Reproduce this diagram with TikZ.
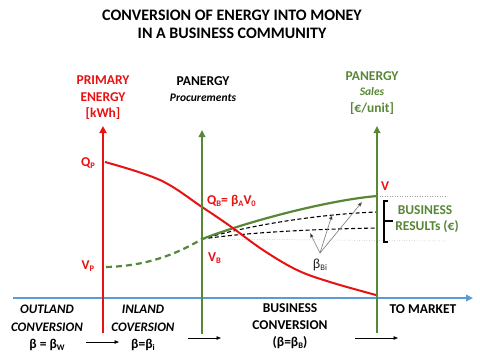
\documentclass[tikz,border=0pt]{standalone}
\usepackage{fontspec}
\setmainfont{Carlito}
\usetikzlibrary{arrows.meta}
\definecolor{myred}{RGB}{232,18,18}
\definecolor{mygreen}{RGB}{88,135,55}
\definecolor{myblue}{RGB}{91,155,213}
\definecolor{mygray}{RGB}{120,120,120}
\newcommand\sbx[1]{\raisebox{-0.35ex}{\fontsize{8.5}{9}\selectfont #1}}
\begin{document}
\begin{tikzpicture}[x=1pt,y=-1pt,
  every node/.style={inner sep=0pt, anchor=base},
  ttl/.style={font=\bfseries\fontsize{16}{18}\selectfont},
  lbl/.style={font=\bfseries\fontsize{13.5}{15}\selectfont},
  ilbl/.style={font=\bfseries\itshape\fontsize{13}{15}\selectfont},
  sml/.style={font=\bfseries\itshape\fontsize{11.5}{13}\selectfont},
  redaxis/.style={myred, line width=2.5pt, -{Triangle[width=7pt,length=7pt]}},
  greenaxis/.style={mygreen, line width=2pt, -{Triangle[width=6.5pt,length=7pt]}},
  thinarr/.style={black, line width=0.7pt, -{Triangle[width=3.5pt,length=4.5pt]}},
  grayarr/.style={mygray, line width=0.6pt, -{Triangle[width=3.5pt,length=4.5pt,fill=black]}},
  dotline/.style={mygray!70, line width=0.5pt, dotted},
  blackdash/.style={black, line width=1.1pt, dash pattern=on 4pt off 2.5pt}
]
\useasboundingbox (0,0) rectangle (480,360);
\fill[white] (0,0) rectangle (480,360);

% title
\node[ttl] (t1) at (232,20) {CONVERSION OF ENERGY INTO MONEY};
\node[ttl] (t2) at (232,38) {IN A BUSINESS COMMUNITY};

% axis headers
\node[lbl, myred] (h1a) at (103,84) {PRIMARY};
\node[lbl, myred] (h1b) at (103,101) {ENERGY};
\node[lbl, myred] (h1c) at (103,117) {[kWh]};
\node[lbl] (h2a) at (203,85) {PANERGY};
\node[sml] (h2b) at (203,101) {Procurements};
\node[lbl, mygreen] (h3a) at (372,80) {PANERGY};
\node[sml, mygreen] (h3b) at (372,95) {Sales};
\node[lbl, mygreen] (h3c) at (372,112) {[€/unit]};

% coordinates
\coordinate (rb) at (103,333);
\coordinate (rt) at (103,126);
\coordinate (mb) at (202,334);
\coordinate (mt) at (202,130);
\coordinate (gb) at (377,333);
\coordinate (gt) at (377,126);
\coordinate (bl) at (13,298);
\coordinate (br) at (473,298);
\coordinate (vb) at (202,239);
\coordinate (vp) at (106,267);
\coordinate (vv) at (377,196);
\coordinate (e1) at (377,212);
\coordinate (e2) at (377,228);

% dotted guides
\draw[dotline] (vv) -- (447,196);
\draw[dotline] (vb) -- (447,241);

% blue axis
\draw[myblue, line width=2pt, -{Triangle[width=6.5pt,length=7pt]}] (bl) -- (br);

% curves
\draw[blackdash] (vb) .. controls (250,225) and (320,214) .. (e1);
\draw[blackdash] (vb) .. controls (250,232) and (320,229) .. (e2);
\draw[mygreen, line width=2.2pt] (vb) .. controls (252,220) and (330,200) .. (vv);
\draw[mygreen, line width=2.2pt, dash pattern=on 6pt off 4pt] (vp) .. controls (150,266) and (180,252) .. (vb);
\draw[myred, line width=2pt] plot[smooth, tension=0.6] coordinates {(105,162) (160,180) (202,207) (230,226) (263,250) (297,270) (330,282) (376,295)};

% axes
\draw[redaxis] (rb) -- (rt);
\draw[greenaxis] (mb) -- (mt);
\draw[greenaxis] (gb) -- (gt);

% bracket
\draw[black, line width=1.4pt] (388,201) -- (384,201) -- (384,242) -- (388,242);
\draw[black, line width=1.4pt] (384,221) -- (393,221);

% beta_Bi arrows
\coordinate (bo) at (320,253);
\coordinate (a1) at (310,233);
\coordinate (a2) at (332,215);
\coordinate (a3) at (362,202);
\draw[grayarr] (bo) -- (a1);
\draw[grayarr] (bo) -- (a2);
\draw[grayarr] (bo) -- (a3);

% curve labels
\node[lbl, myred] (qp) at (88,166) {Q\sbx{P}};
\node[lbl, myred] (vpl) at (88,269) {V\sbx{P}};
\node[lbl, myred, anchor=base west] (qb) at (207,204) {Q\sbx{B}= β\sbx{A}V\sbx{0}};
\node[lbl, myred, anchor=base west] (vbl) at (208,261) {V\sbx{B}};
\node[lbl, myred] (vl) at (385,190) {V};
\node[font=\fontsize{14}{15}\selectfont, black!85] (bbi) at (320,268) {β\sbx{Bi}};
\node[lbl, mygreen] (br1) at (425,214) {BUSINESS};
\node[lbl, mygreen] (br2) at (427,230) {RESULTs (€)};

% bottom labels
\node[ilbl] (o1) at (47,313) {OUTLAND};
\node[ilbl] (o2) at (47,331) {CONVERSION};
\node[lbl] (o3) at (47,348) {β = β\sbx{W}};
\node[ilbl] (i1) at (143,313) {INLAND};
\node[ilbl] (i2) at (143,331) {COVERSION};
\node[lbl] (i3) at (143,348) {β=β\sbx{i}};
\node[lbl] (b1) at (290,312) {BUSINESS};
\node[lbl] (b2) at (290,329) {CONVERSION};
\node[lbl] (b3) at (290,346) {(β=β\sbx{B})};
\node[lbl] (tm) at (423,313) {TO MARKET};

% small arrows
\coordinate (s1a) at (86,342); \coordinate (s1b) at (119,342);
\coordinate (s2a) at (188,338); \coordinate (s2b) at (221,338);
\coordinate (s3a) at (355,338); \coordinate (s3b) at (398,338);
\draw[thinarr] (s1a) -- (s1b);
\draw[thinarr] (s2a) -- (s2b);
\draw[thinarr] (s3a) -- (s3b);
\end{tikzpicture}
\end{document}
